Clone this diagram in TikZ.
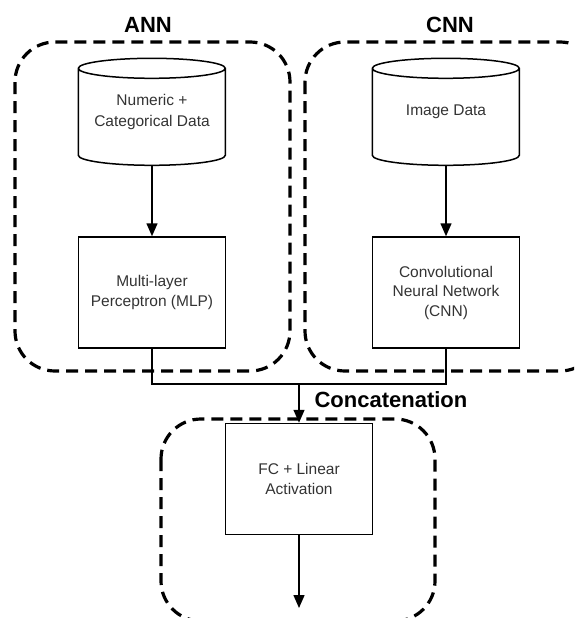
\documentclass[tikz,border=0pt]{standalone}
\usepackage{fontspec}
\setmainfont{Liberation Sans}
\usetikzlibrary{arrows.meta}
\begin{document}
\begin{tikzpicture}[x=1pt,y=-1pt,
  group/.style={draw, line width=3.2pt, dash pattern=on 12pt off 7pt, rounded corners=40pt},
  proc/.style={draw, line width=1.5pt, minimum width=147pt, minimum height=111pt, inner sep=0pt, align=center, text=black!80, font=\fontsize{15.5}{19.5}\selectfont},
  db/.style={minimum width=147pt, minimum height=107pt, inner sep=0pt, align=center, text=black!80, font=\fontsize{15.5}{21}\selectfont},
  conn/.style={line width=1.5pt},
  arr/.style={line width=1.5pt, -{Triangle[length=13pt,width=11pt]}},
  title/.style={font=\fontsize{22}{26}\selectfont\bfseries}]
\useasboundingbox (0,0) rectangle (574,618);
\clip (0,0) rectangle (574,618);
% group boxes
\draw[group] (15,42) rectangle (290,371);
\draw[group] (305,42) rectangle (600,371);
\draw[group] (161,419) rectangle (435,621);
% titles
\node[title] (tann) at (148,25) {ANN};
\node[title] (tcnn) at (450,25) {CNN};
% cylinders
\node[db] (num) at (152,112) {Numeric +\\Categorical Data};
\node[db] (img) at (446,112) {Image Data};
\foreach \n in {num,img}{
  \draw[line width=1.5pt] (\n.north west) ++(0,10) arc[start angle=180, end angle=540, x radius=73.5pt, y radius=10pt]
     -- ++(0,87) arc[start angle=180, end angle=360, x radius=73.5pt, y radius=10pt] -- ++(0,-87);
}
% boxes
\node[proc] (mlp) at (152,292.5) {Multi-layer\\Perceptron (MLP)};
\node[proc] (cnn) at (446,292.5) {Convolutional\\Neural Network\\(CNN)};
\node[proc] (fc) at (299,479) {FC + Linear\\Activation};
% connectors
\draw[arr] (num.south) -- (mlp.north);
\draw[arr] (img.south) -- (cnn.north);
\coordinate (j) at (299,384);
\draw[conn] (mlp.south) -- (mlp.south |- j) -- (cnn.south |- j) -- (cnn.south);
\draw[arr] (j) -- (fc.north);
\node[title, anchor=west] (tcat) at (311,400) {Concatenation};
\coordinate (out) at (299,608);
\draw[arr] (fc.south) -- (out);
\end{tikzpicture}
\end{document}
